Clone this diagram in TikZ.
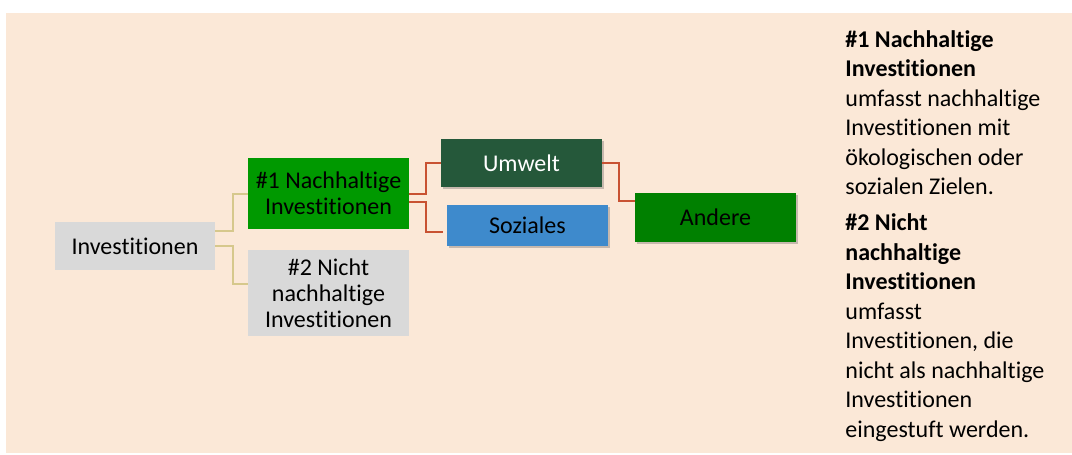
\documentclass[tikz,border=0pt]{standalone}
\usepackage{fontspec}
\setmainfont{Carlito}[Ligatures=NoCommon]
\usetikzlibrary{shadows}

\definecolor{bgbeige}{RGB}{251,232,215}
\definecolor{boxgray}{RGB}{217,217,217}
\definecolor{greenA}{RGB}{0,153,0}
\definecolor{greenB}{RGB}{0,128,0}
\definecolor{greenDark}{RGB}{37,88,58}
\definecolor{blueSoz}{RGB}{62,138,204}
\definecolor{lineKhaki}{RGB}{214,200,140}
\definecolor{lineRed}{RGB}{200,82,50}

\tikzset{
    box/.style={rectangle, inner sep=0pt, align=center,
        font=\fontsize{12}{13}\selectfont},
    shadowbox/.style={box, drop shadow={shadow xshift=1.2pt,
        shadow yshift=-1.2pt, opacity=0.3, fill=black!70}},
    khakiline/.style={lineKhaki, line width=1pt},
    redline/.style={lineRed, line width=1pt}
}

\begin{document}
\begin{tikzpicture}[x=0.5pt, y=-0.5pt]
\useasboundingbox (0, 0) rectangle (1072, 455);
\fill[bgbeige] (6, 13) rectangle (1072, 453);

% Draw tree boxes.
\node[box, fill=boxgray, minimum width=80pt, minimum height=24pt]
    (inv) at (135, 246) {Investitionen};
\node[box, fill=greenA, minimum width=80.5pt, minimum height=35.5pt]
    (nh1) at (328.5, 193.5) {\#1 Nachhaltige\\Investitionen};
\node[box, fill=boxgray, minimum width=80.5pt, minimum height=43pt]
    (nh2) at (328.5, 293) {\#2 Nicht\\nachhaltige\\Investitionen};
\node[shadowbox, fill=greenDark, text=white, minimum width=80.5pt,
    minimum height=24pt] (umw) at (521.5, 163) {Umwelt};
\node[shadowbox, fill=blueSoz, minimum width=80.5pt, minimum height=20.5pt]
    (soz) at (527.5, 225.5) {Soziales};
\node[shadowbox, fill=greenB, minimum width=80.5pt, minimum height=24.5pt]
    (and) at (715.5, 217.5) {Andere};

% Draw connectors.
\draw[khakiline] ([yshift=7.5pt]inv.east) -- ++(18, 0) |- (nh1.west);
\draw[khakiline] (inv.east) -- ++(18, 0) |- ([yshift=4.5pt]nh2.west);
\draw[redline] (nh1.east) -- ++(17, 0) |- (umw.west);
\draw[redline] ([yshift=-4pt]nh1.east) -- ++(17, 0)
    |- ([xshift=-2pt, yshift=-3.25pt]soz.west);
\draw[redline] (umw.east) -- ++(17, 0) |- ([yshift=8.25pt]and.west);

% Draw legend text.
\node[anchor=north west, inner sep=0pt, align=left,
    font=\fontsize{12}{14.75}\selectfont] (legend) at (845, 30)
    {\textbf{\#1 Nachhaltige}\\
     \textbf{Investitionen}\\
     umfasst nachhaltige\\
     Investitionen mit\\
     ökologischen oder\\
     sozialen Zielen.\\[3.25pt]
     \textbf{\#2 Nicht}\\
     \textbf{nachhaltige}\\
     \textbf{Investitionen}\\
     umfasst\\
     Investitionen, die\\
     nicht als nachhaltige\\
     Investitionen\\
     eingestuft werden.};

\end{tikzpicture}
\end{document}
